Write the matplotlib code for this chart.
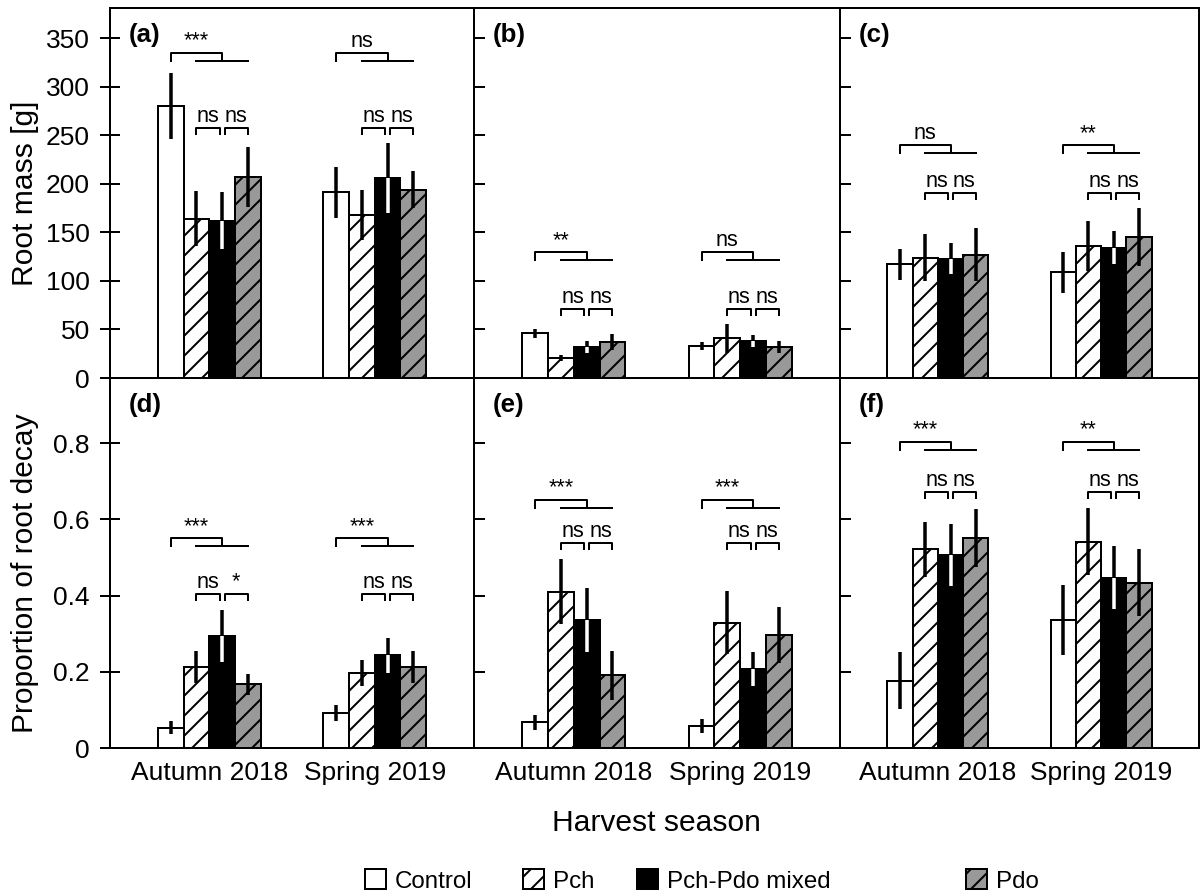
import matplotlib
matplotlib.use('Agg')
import matplotlib.pyplot as plt
from matplotlib.patches import Patch
import numpy as np

plt.rcParams['font.family'] = ['Liberation Sans', 'DejaVu Sans']
plt.rcParams['hatch.linewidth'] = 1.2

seasons = ['Autumn 2018', 'Spring 2019']
treatments = ['Control', 'Pch', 'Pch-Pdo mixed', 'Pdo']

# means / errors per season (rows) and treatment (cols)
a_mean = [[280, 164, 162, 207], [191, 168, 206, 194]]
a_err = [[34, 28, 29, 31], [26, 26, 36, 19]]
b_mean = [[46, 21, 32, 37], [33, 41, 38, 32]]
b_err = [[4.5, 3, 6, 8], [4.5, 15, 6, 6]]
c_mean = [[117, 124, 123, 127], [109, 136, 134, 145]]
c_err = [[16, 24, 15.5, 27.5], [21, 25.5, 17, 30]]
d_mean = [[0.053, 0.213, 0.294, 0.167], [0.092, 0.196, 0.243, 0.213]]
d_err = [[0.017, 0.042, 0.067, 0.027], [0.022, 0.034, 0.045, 0.042]]
e_mean = [[0.067, 0.410, 0.336, 0.191], [0.057, 0.329, 0.208, 0.297]]
e_err = [[0.020, 0.085, 0.084, 0.064], [0.018, 0.082, 0.044, 0.074]]
f_mean = [[0.177, 0.522, 0.506, 0.551], [0.335, 0.541, 0.447, 0.434]]
f_err = [[0.075, 0.072, 0.082, 0.077], [0.092, 0.088, 0.082, 0.087]]

# significance: [control vs rest, Pch vs mixed, mixed vs Pdo]
a_sig = [['***', 'ns', 'ns'], ['ns', 'ns', 'ns']]
b_sig = [['**', 'ns', 'ns'], ['ns', 'ns', 'ns']]
c_sig = [['ns', 'ns', 'ns'], ['**', 'ns', 'ns']]
d_sig = [['***', 'ns', '*'], ['***', 'ns', 'ns']]
e_sig = [['***', 'ns', 'ns'], ['***', 'ns', 'ns']]
f_sig = [['***', 'ns', 'ns'], ['**', 'ns', 'ns']]

# bracket heights (upper, lower)
a_brk = [335, 257]
b_brk = [130, 71]
c_brk = [240, 190.5]
d_brk = [0.551, 0.405]
e_brk = [0.652, 0.537]
f_brk = [0.804, 0.673]

fill_colors = ['white', 'white', 'black', '#999999']
hatches = ['', '//', '', '//']

W, H = 1204, 896
fig = plt.figure(figsize=(W / 120, H / 120), dpi=120)
x_edges = [110, 474, 840, 1199]
y_edges = [8, 378, 748]

bw = 0.155
offsets = (np.arange(4) - 1.5) * bw
group_x = np.arange(1, 3)


def make_ax(col, row):
    l = x_edges[col] / W
    r = x_edges[col + 1] / W
    t = 1 - y_edges[row] / H
    b = 1 - y_edges[row + 1] / H
    return fig.add_axes([l, b, r - l, t - b])


def draw_panel(ax, means, errs, sigs, brk, label, top, left):
    means = np.array(means)
    errs = np.array(errs)
    ax.set_xlim(0.4, 2.6)
    if top:
        ax.set_ylim(0, 380.9)
        ax.set_yticks(np.arange(0, 351, 50))
    else:
        ax.set_ylim(0, 0.971)
        ax.set_yticks([0, 0.2, 0.4, 0.6, 0.8])
        ax.set_yticklabels(['0', '0.2', '0.4', '0.6', '0.8'])
    for j in range(4):
        x = group_x + offsets[j]
        m = means[:, j]
        e = errs[:, j]
        ax.bar(x, m, bw, color=fill_colors[j], edgecolor='black', hatch=hatches[j],
               linewidth=1.2, zorder=2)
        if j == 2:
            ax.vlines(x, m - e, m, color='white', lw=2.1, zorder=3)
            ax.vlines(x, m, m + e, color='black', lw=2.1, zorder=3)
        else:
            ax.vlines(x, m - e, m + e, color='black', lw=2.1, zorder=3)

    d = (ax.get_ylim()[1] - ax.get_ylim()[0]) / 370.0
    g = 0.015
    for k in range(2):
        xc, xp, xm, xd = group_x[k] + offsets
        yu, yl = brk
        ax.plot([xc, xc, xm, xm], [yu - 8 * d, yu, yu, yu - 8 * d], color='black', lw=1.2)
        ax.plot([xp, xd], [yu - 8 * d, yu - 8 * d], color='black', lw=1.2)
        ax.plot([xp, xp, xm - g, xm - g], [yl - 6 * d, yl, yl, yl - 6 * d], color='black', lw=1.2)
        ax.plot([xm + g, xm + g, xd, xd], [yl - 6 * d, yl, yl, yl - 6 * d], color='black', lw=1.2)
        s = sigs[k]
        for txt, xx, yy in [(s[0], (xc + xm) / 2, yu), (s[1], (xp + xm - g) / 2, yl),
                            (s[2], (xm + g + xd) / 2, yl)]:
            ax.annotate(txt, xy=(xx, yy), xytext=(0, 6), textcoords='offset pixels',
                        ha='center', va='baseline', fontsize=13)

    ax.annotate(label, xy=(0, 1), xycoords='axes fraction', xytext=(19, -27),
                textcoords='offset pixels', ha='left', va='center',
                fontsize=15.5, fontweight='bold')

    for sp in ax.spines.values():
        sp.set_linewidth(1.2)
    if left:
        ax.tick_params(axis='y', direction='inout', length=12, width=1.2,
                       labelsize=15.8, pad=6)
    else:
        ax.tick_params(axis='y', direction='in', length=6.6, width=1.2, labelleft=False)
    ax.set_xticks(group_x)
    ax.set_xticklabels(seasons)
    ax.tick_params(axis='x', length=0, labelsize=15.8, pad=8, labelbottom=not top)


panels = [
    (a_mean, a_err, a_sig, a_brk, '(a)', 0, 0),
    (b_mean, b_err, b_sig, b_brk, '(b)', 1, 0),
    (c_mean, c_err, c_sig, c_brk, '(c)', 2, 0),
    (d_mean, d_err, d_sig, d_brk, '(d)', 0, 1),
    (e_mean, e_err, e_sig, e_brk, '(e)', 1, 1),
    (f_mean, f_err, f_sig, f_brk, '(f)', 2, 1),
]
for means, errs, sigs, brk, label, col, row in panels:
    ax = make_ax(col, row)
    draw_panel(ax, means, errs, sigs, brk, label, row == 0, col == 0)

fig.text(25 / W, 1 - 193 / H, 'Root mass [g]', rotation=90, ha='center', va='center', fontsize=18)
fig.text(25 / W, 1 - 573 / H, 'Proportion of root decay', rotation=90, ha='center',
         va='center', fontsize=18)
fig.text(656 / W, 1 - 823 / H, 'Harvest season', ha='center', va='center', fontsize=18)

legend_x = [365, 523, 637, 966]
for name, fc, hc, lx in zip(treatments, fill_colors, hatches, legend_x):
    h = Patch(facecolor=fc, edgecolor='black', hatch=hc, linewidth=1.2, label=name)
    fig.legend(handles=[h], loc='center left', bbox_to_anchor=(lx / W, 1 - 881 / H),
               frameon=False, fontsize=14.5, handlelength=0.85, handleheight=0.85,
               handletextpad=0.4, borderpad=0, borderaxespad=0)

fig.savefig('out.png', dpi=120)
